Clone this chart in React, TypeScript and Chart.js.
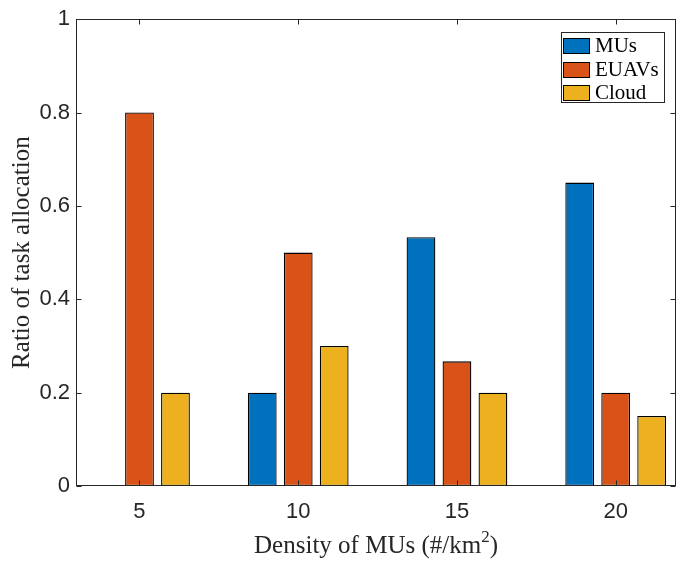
import React, { useEffect, useRef } from 'react';
import { Chart, registerables } from 'chart.js';

Chart.register(...registerables);

const densities = [5, 10, 15, 20];
const musRatio = [0, 0.2, 0.533, 0.65];
const euavRatio = [0.8, 0.5, 0.267, 0.2];
const cloudRatio = [0.2, 0.3, 0.2, 0.15];
const yTickValues = [0, 0.2, 0.4, 0.6, 0.8, 1];
const yTickLabels = ['0', '0.2', '0.4', '0.6', '0.8', '1'];
const seriesLabels = ['MUs', 'EUAVs', 'Cloud'];
const seriesColors = ['#0072BD', '#D95319', '#EDB120'];
const xTitleMain = 'Density of MUs (#/km';
const xTitleSup = '2';
const xTitleEnd = ')';

const AXIS_COLOR = '#262626';
const SANS = "'Liberation Sans', Arial, Helvetica, sans-serif";
const SERIF = "'Liberation Serif', 'Times New Roman', Times, serif";

const boxPlugin = {
  id: 'matlabBox',
  afterDatasetsDraw(chart: any) {
    const { ctx, chartArea } = chart;
    const { left, right, top, bottom } = chartArea;
    const xs = chart.scales.x;
    const ys = chart.scales.y;
    ctx.save();
    ctx.strokeStyle = AXIS_COLOR;
    ctx.lineWidth = 1;
    const L = Math.round(left) + 0.5;
    const R = Math.round(right) - 0.5;
    const T = Math.round(top) + 0.5;
    const B = Math.round(bottom) - 0.5;
    const tl = 5;
    ctx.beginPath();
    yTickValues.forEach((v) => {
      const p = Math.round(ys.getPixelForValue(v)) + 0.5;
      ctx.moveTo(L, p);
      ctx.lineTo(L + tl, p);
      ctx.moveTo(R, p);
      ctx.lineTo(R - tl, p);
    });
    densities.forEach((v) => {
      const p = Math.round(xs.getPixelForValue(v)) + 0.5;
      ctx.moveTo(p, B);
      ctx.lineTo(p, B - tl);
      ctx.moveTo(p, T);
      ctx.lineTo(p, T + tl);
    });
    ctx.stroke();
    ctx.strokeRect(L, T, R - L, B - T);

    // x-axis title with superscript
    ctx.fillStyle = AXIS_COLOR;
    ctx.textBaseline = 'alphabetic';
    ctx.textAlign = 'left';
    const mainFont = `25px ${SERIF}`;
    const supFont = `17px ${SERIF}`;
    ctx.font = mainFont;
    const w1 = ctx.measureText(xTitleMain).width;
    const w3 = ctx.measureText(xTitleEnd).width;
    ctx.font = supFont;
    const w2 = ctx.measureText(xTitleSup).width;
    const total = w1 + w2 + w3;
    const cx = (left + right) / 2;
    let tx = cx - total / 2;
    const baseY = 553;
    ctx.font = mainFont;
    ctx.fillText(xTitleMain, tx, baseY);
    tx += w1;
    ctx.font = supFont;
    ctx.fillText(xTitleSup, tx, baseY - 11);
    tx += w2;
    ctx.font = mainFont;
    ctx.fillText(xTitleEnd, tx, baseY);

    // legend
    const lx = 561.5;
    const ly = 32.5;
    const lw = 103;
    const lh = 70;
    ctx.fillStyle = '#ffffff';
    ctx.fillRect(lx, ly, lw, lh);
    ctx.strokeStyle = AXIS_COLOR;
    ctx.strokeRect(lx, ly, lw, lh);
    ctx.font = `21px ${SERIF}`;
    ctx.textBaseline = 'middle';
    ctx.textAlign = 'left';
    seriesLabels.forEach((lab, i) => {
      const cy = 45.5 + i * 23.5;
      ctx.fillStyle = seriesColors[i];
      ctx.fillRect(563.5, Math.round(cy - 7.5) + 0.5, 26, 15);
      ctx.strokeStyle = '#000000';
      ctx.strokeRect(563.5, Math.round(cy - 7.5) + 0.5, 26, 15);
      ctx.fillStyle = '#000000';
      ctx.fillText(lab, 595, cy + 1);
    });
    ctx.restore();
  },
};

export default function App() {
  const ref = useRef<HTMLCanvasElement | null>(null);

  useEffect(() => {
    if (!ref.current) return;
    const series = [musRatio, euavRatio, cloudRatio];
    const chart = new Chart(ref.current, {
      type: 'bar',
      data: {
        datasets: series.map((vals, si) => ({
          label: seriesLabels[si],
          data: densities.map((d, i) => ({ x: d, y: vals[i] })),
          backgroundColor: seriesColors[si],
          borderColor: '#000000',
          borderWidth: 1.3,
          borderSkipped: false,
          categoryPercentage: 0.68,
          barPercentage: 0.8,
        })),
      },
      options: {
        animation: false,
        responsive: false,
        devicePixelRatio: 1,
        layout: { padding: { top: 15, right: 6, left: 0, bottom: 0 } },
        plugins: {
          legend: { display: false },
          tooltip: { enabled: false },
        },
        scales: {
          x: {
            type: 'linear',
            min: 3,
            max: 21.9,
            offset: false,
            grid: { display: false, drawTicks: false },
            border: { display: false },
            afterBuildTicks: (scale: any) => {
              scale.ticks = densities.map((v) => ({ value: v }));
            },
            afterFit: (scale: any) => {
              scale.height = 75;
            },
            ticks: {
              autoSkip: false,
              maxRotation: 0,
              padding: 13,
              color: AXIS_COLOR,
              font: { family: SANS, size: 22 },
              callback: (v: any) => String(v),
            },
            title: { display: false },
          },
          y: {
            type: 'linear',
            min: 0,
            max: 1,
            grid: { display: false, drawTicks: false },
            border: { display: false },
            afterBuildTicks: (scale: any) => {
              scale.ticks = yTickValues.map((v) => ({ value: v }));
            },
            afterFit: (scale: any) => {
              scale.width = 76;
            },
            ticks: {
              padding: 6,
              color: AXIS_COLOR,
              font: { family: SANS, size: 22 },
              callback: (v: any) => {
                const idx = yTickValues.indexOf(Number(v));
                return idx >= 0 ? yTickLabels[idx] : '';
              },
            },
            title: {
              display: true,
              text: 'Ratio of task allocation',
              color: AXIS_COLOR,
              font: { family: SERIF, size: 25 },
              padding: { top: 7, bottom: 0 },
            },
          },
        },
      },
      plugins: [boxPlugin],
    });
    return () => chart.destroy();
  }, []);

  return (
    <div style={{ position: 'fixed', left: 0, top: 0, width: 682, height: 561, background: '#fff' }}>
      <canvas ref={ref} width={682} height={561} style={{ display: 'block' }} />
    </div>
  );
}
